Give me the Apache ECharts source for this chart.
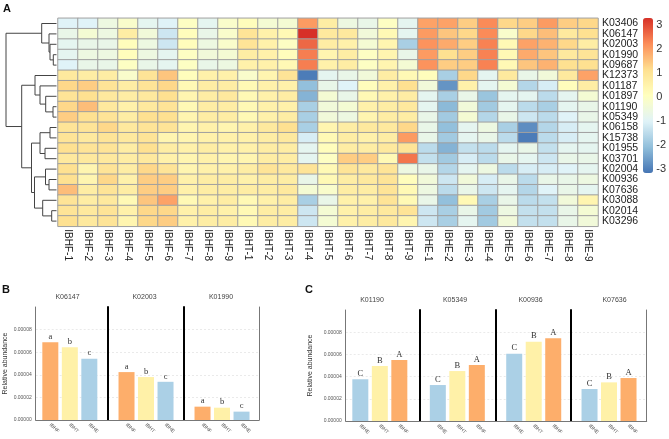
<!DOCTYPE html>
<html><head><meta charset="utf-8">
<script src="https://cdn.jsdelivr.net/npm/echarts@6/dist/echarts.min.js"></script>
<style>html,body{margin:0;padding:0;background:#fff}#c{width:669px;height:439px}</style>
</head><body><div id="c"></div>
<script>
// ---------- Heatmap data ----------
const rowLabels = ['K03406','K06147','K02003','K01990','K09687','K12373','K01187','K01897','K01190','K05349',
  'K06158','K15738','K01955','K03701','K02004','K00936','K07636','K03088','K02014','K03296'];
const colLabels = ['IBHF-1','IBHF-2','IBHF-3','IBHF-4','IBHF-5','IBHF-6','IBHF-7','IBHF-8','IBHF-9',
  'IBHT-1','IBHT-2','IBHT-3','IBHT-4','IBHT-5','IBHT-6','IBHT-7','IBHT-8','IBHT-9',
  'IBHE-1','IBHE-2','IBHE-3','IBHE-4','IBHE-5','IBHE-6','IBHE-7','IBHE-8','IBHE-9'];
const zValues = [
 [-1.0,-1.0,-0.56,-0.15,-0.84,-1.0,0,-0.84,-0.15, 0.15,-0.3,-0.3,2.05,0.7,-0.56,-0.7,0,-0.84, 1.95,1.95,1.4,2.25,1.26,1.4,2.05,1.4,1.26],
 [-0.7,-0.3,-0.56,0.7,-0.42,-1.26,0.15,-0.7,-0.15, 1.0,0.56,0.3,3.3,0.84,0.84,-0.42,0.3,-0.84, 2.05,1.5,1.26,2.25,-0.15,1.26,1.6,0.84,1.12],
 [-0.84,-0.7,-0.7,0.15,-0.56,-1.26,0.15,-0.56,-0.15, 1.0,0.56,0,2.65,0.7,0.56,-0.3,0.42,-1.75, 2.15,1.85,1.4,2.35,0.3,1.95,1.75,1.26,0.7],
 [-0.84,-0.56,-0.56,0.15,-0.56,-0.84,0,-0.42,-0.3, 0.7,0.56,0.15,2.4,0.42,0.7,0,0.42,-0.7, 2.05,1.12,1.4,2.35,0.3,1.85,1.5,0.84,1.0],
 [-1.0,-0.7,-0.7,0,-0.7,-0.84,0,-0.7,-0.56, 0.56,0.56,0.3,2.4,0.56,0.7,0,0.42,-0.3, 2.15,1.4,1.4,2.35,0.3,1.5,1.75,1.12,1.12],
 [0.84,0.7,0.7,-0.15,1.0,1.5,0.15,0.56,0.56, -0.15,0.42,1.0,-3.05,-0.84,-0.7,-0.42,0.7,0.3, 0.15,-1.75,1.26,-0.84,0.84,-0.7,-0.42,0.84,1.95],
 [1.26,1.4,1.0,0.7,1.0,1.26,0.3,0.7,0.7, 0.3,0.56,0.56,-2.05,-0.7,-1.0,0.15,0.56,1.12, -0.42,-2.7,0.56,-0.84,-0.3,-1.6,-1.12,0.15,0.7],
 [1.0,1.12,0.84,0.7,0.84,1.12,0.42,0.7,0.84, 0.3,0.56,0.7,-2.25,-0.3,-0.7,0.3,0.56,0.7, -0.84,-1.75,-0.7,-1.95,-0.84,-0.84,-1.5,-0.84,-0.3],
 [1.26,1.6,0.84,0.56,0.84,1.0,0.3,0.7,0.7, 0.3,0.56,0.56,-1.75,-0.42,-0.3,0.56,0.7,0.84, -0.84,-2.15,-0.42,-1.85,-0.84,-1.5,-1.75,-0.84,-0.7],
 [1.4,1.12,1.0,0.7,1.12,1.12,0.42,0.7,0.7, 0.3,0.56,0.7,-1.75,-0.42,-0.56,0.42,0.7,0.7, -0.7,-1.85,-0.3,-1.6,-0.7,-1.26,-1.5,-1.0,-0.7],
 [1.0,1.0,1.26,0.84,1.0,1.0,0.42,0.56,0.42, 0.56,0.84,1.12,-1.75,0.42,0.7,0.84,0.84,1.26, -0.7,-2.05,-0.84,-0.56,-1.75,-2.8,-1.6,-1.12,-0.84],
 [1.0,0.84,1.0,0.84,1.0,0.42,0.42,0.56,0.56, 0.56,0.7,0.84,-1.12,0.3,0.7,0.56,0.7,2.05, -0.7,-1.85,-0.84,-0.7,-1.5,-3.05,-1.5,-1.12,-0.84],
 [1.12,1.0,1.0,0.7,1.12,0.7,0.56,0.7,0.56, 0.56,0.7,0.7,-0.84,0.15,0.7,0.7,0.84,1.0, -1.5,-2.25,-1.4,-1.5,-0.84,-0.7,-1.4,-0.84,-0.84],
 [0.84,0.84,0.84,0.7,0.84,0.56,0.42,0.56,0.42, 0.42,0.7,0.7,-0.84,0,1.4,1.4,0.3,2.5, -1.4,-1.85,-1.12,-1.5,-0.7,-0.84,-1.26,-0.7,-0.7],
 [1.12,0.42,1.0,0.7,1.26,1.0,0.42,0.56,0.56, 0.7,1.0,0.84,1.0,0.3,1.0,0.84,1.0,-0.56, -0.7,-1.6,-0.84,-0.56,-1.5,-1.12,-1.12,-1.0,-0.84],
 [1.12,0.42,1.26,0.56,1.4,1.4,0.56,0.7,0.7, 0.56,0.7,0.7,-0.7,0.3,0.7,0.84,1.0,0.15, -0.42,-1.26,-0.42,-1.12,-0.7,-1.5,-0.7,-0.7,-0.56],
 [1.6,0.7,1.0,0.7,1.4,1.4,0.56,0.7,0.7, 0.7,0.7,0.84,-0.3,-0.15,0.7,0.7,1.0,0.3, -0.56,-1.5,-0.7,-1.26,-0.84,-1.6,-1.0,-0.7,-0.84],
 [1.0,0.7,0.84,0.3,1.5,1.95,0.3,0.56,0.7, 0.3,0.56,0.7,-1.75,-0.7,0.56,0.56,1.0,0.3, -0.7,-2.05,0.3,-1.75,-0.7,-1.5,-1.4,-0.42,0.42],
 [1.0,0.84,1.0,0.56,1.26,1.26,0.56,0.7,0.56, 0.3,0.7,0.7,-1.26,-0.3,0.56,0.7,0.84,1.0, -1.26,-1.75,-0.7,-1.85,-0.56,-1.4,-1.4,-0.7,-0.3],
 [1.12,0.84,1.0,0.42,1.26,1.4,0.56,0.7,0.7, 0.3,0.7,0.7,-1.26,-0.3,0.56,0.7,0.84,0.42, -1.26,-1.75,-0.84,-1.85,-0.42,-1.4,-1.4,-0.7,-0.42]
];
const colorbarTicks = [-3,-2,-1,0,1,2,3];
const zMin = -3.15, zMax = 3.3;

// Row dendrogram: [height, left, right]; leaves are row indices
const dendroTree = [50.5,
  [14.8, 0, [7.5, 1, [6.5, 2, [3.2, 3, 4]]]],
  [34.8,
    [21.5, 5, [16.5, 6, [10.8, 7, [3.5, 8, 9]]]],
    [25, [16.5, [6.5, 10, 11], [11.5, 12, 13]],
         [22, [11, 14, [7.5, 15, 16]], [13.8, 17, [4.8, 18, 19]]]]]];

// ---------- Bar panel data ----------
const bGenes = ['K06147','K02003','K01990'];
const bGroups = ['IBHF','IBHT','IBHE'];
const bValues = [[6.87e-5,6.43e-5,5.42e-5],[4.24e-5,3.80e-5,3.38e-5],[1.18e-5,1.09e-5,0.74e-5]];
const bLetters = ['a','b','c'];
const cGenes = ['K01190','K05349','K00936','K07636'];
const cGroups = ['IBHE','IBHT','IBHF'];
const cValues = [[3.76e-5,4.95e-5,5.50e-5],[3.24e-5,4.50e-5,5.04e-5],[6.06e-5,7.14e-5,7.45e-5],[2.88e-5,3.48e-5,3.87e-5]];
const cLetters = ['C','B','A'];
const yTickVals = [0, 0.00002, 0.00004, 0.00006, 0.00008];

const groupColor = {IBHF:'#fdae6b', IBHT:'#fff1a8', IBHE:'#abd0e6'};
const palette = ['#4575B4','#91BFDB','#E0F3F8','#FFFFBF','#FEE090','#FC8D59','#D73027'];
const FONT = 'Liberation Sans, Arial, sans-serif';

// ---------- build ----------
const heatData = [];
zValues.forEach((row, r) => row.forEach((v, c) => heatData.push([c, r, v])));

const dendroLines = [];
function buildTree(node) {
  if (typeof node === 'number') return {y: node + 0.5, h: 0};
  const a = buildTree(node[1]), b = buildTree(node[2]), h = node[0];
  dendroLines.push({coords: [[a.h, a.y], [h, a.y], [h, b.y], [b.h, b.y]]});
  return {y: (a.y + b.y) / 2, h};
}
buildTree(dendroTree);

const grid = [], xAxis = [], yAxis = [], series = [], title = [];
// 0 heatmap
grid.push({left: 58, top: 18.3, width: 540, height: 208});
xAxis.push({type:'category', gridIndex:0, data: colLabels, axisLine:{show:false}, axisTick:{show:false},
  axisLabel:{rotate:-90, fontSize:10, color:'#222', margin:3, interval:0, fontFamily:FONT}});
yAxis.push({type:'category', gridIndex:0, data: rowLabels, inverse:true, position:'right',
  axisLine:{show:false}, axisTick:{show:false}, axisLabel:{fontSize:10.5, color:'#222', margin:4, interval:0, fontFamily:FONT}});
series.push({type:'heatmap', xAxisIndex:0, yAxisIndex:0, data: heatData,
  itemStyle:{borderColor:'#a0a0a0', borderWidth:1}, emphasis:{disabled:true}});
// 1 dendrogram
grid.push({left: 6, top: 18.3, width: 50.5, height: 208});
xAxis.push({type:'value', gridIndex:1, min:0, max:50.5, inverse:true, show:false});
yAxis.push({type:'value', gridIndex:1, min:0, max:20, inverse:true, show:false});
series.push({type:'lines', coordinateSystem:'cartesian2d', xAxisIndex:1, yAxisIndex:1, polyline:true,
  data: dendroLines, lineStyle:{color:'#444', width:1, opacity:1}, silent:true});
// 2 colorbar axis
grid.push({left: 643, top: 18, width: 10, height: 155});
xAxis.push({type:'value', gridIndex:2, show:false, min:0, max:1});
yAxis.push({type:'value', gridIndex:2, min:zMin, max:zMax, position:'right', axisLine:{show:false},
  axisTick:{show:false}, splitLine:{show:false},
  axisLabel:{customValues: colorbarTicks, fontSize:11, color:'#333', margin:5, fontFamily:FONT}});

function addFacets(genes, groups, values, letters, lefts, widths, xmins, top, height, nameGap) {
  const n = genes.length;
  for (let k = 0; k < n; k++) {
    const gi = grid.length;
    grid.push({left: lefts[k], top: top, width: widths[k], height: height});
    const xi = xAxis.length;
    xAxis.push({type:'value', gridIndex:gi, min: xmins[k], max: xmins[k] + widths[k] / 19.5,
      axisLine:{show:true, onZero:false, lineStyle:{color:'#777', width:1}}, axisTick:{show:false}, splitLine:{show:false},
      axisLabel:{customValues:[1,2,3], formatter: v => groups[Math.round(v) - 1], rotate:-45, fontSize:5, color:'#555', margin:4, fontFamily:FONT}});
    const first = k === 0;
    const yi = yAxis.length;
    yAxis.push({type:'value', gridIndex:gi, min:0, max:0.0001,
      axisLine:{show:true, lineStyle: first ? {color:'#777', width:1} : {color:'#000', width:2}},
      axisTick:{show:false},
      splitLine:{show:true, showMaxLine:false, lineStyle:{color:'#ddd', width:0.6, type:[2,2]}},
      axisLabel:{show:first, customValues: yTickVals, formatter: v => v.toFixed(5), fontSize:5, color:'#555', margin:4, fontFamily:FONT},
      name: first ? 'Relative abundance' : '', nameLocation:'middle', nameGap: nameGap, nameRotate:90,
      nameTextStyle:{fontSize:7, color:'#333', fontFamily:FONT}});
    series.push({type:'bar', xAxisIndex: xi, yAxisIndex: yi, barWidth:16,
      data: values[k].map((v, i) => ({value:[i + 1, v], itemStyle:{color: groupColor[groups[i]]}})),
      label:{show:true, position:'top', distance:1, formatter: p => letters[p.dataIndex],
        fontFamily:'Liberation Serif, Times New Roman, serif', fontSize:8.5, color:'#333'},
      emphasis:{disabled:true}});
    if (k === n - 1) {
      yAxis.push({type:'value', gridIndex:gi, min:0, max:0.0001, position:'right',
        axisLine:{show:true, lineStyle:{color:'#777', width:1}}, axisTick:{show:false},
        axisLabel:{show:false}, splitLine:{show:false}});
    }
  }
}
addFacets(bGenes, bGroups, bValues, bLetters, [35.7,108,184], [72.3,76,75], [0.25,0.05,0.05], 307, 113, 27);
addFacets(cGenes, cGroups, cValues, cLetters, [345.7,419.3,495.7,571], [73.6,76.4,75.3,75.7], [0.25,0.05,0.05,0.05], 310, 111, 32);

// facet titles
const bTitleX = [67.5, 144.5, 221];
const cTitleX = [372, 455, 530.5, 614.5];
bGenes.forEach((g, i) => title.push({text: g, left: bTitleX[i], top: 294, textAlign:'center', padding:0,
  textStyle:{fontSize:7, fontWeight:'normal', color:'#444', fontFamily:FONT}}));
cGenes.forEach((g, i) => title.push({text: g, left: cTitleX[i], top: 297, textAlign:'center', padding:0,
  textStyle:{fontSize:7, fontWeight:'normal', color:'#444', fontFamily:FONT}}));
// panel letters
[['A',3,3],['B',2,284],['C',305,284]].forEach(([t,x,y]) => title.push({text:t, left:x, top:y, padding:0,
  textStyle:{fontSize:11, fontWeight:'bold', color:'#111', fontFamily:FONT}}));

const chart = echarts.init(document.getElementById('c'), null, {width:669, height:439});
chart.setOption({
  animation:false,
  backgroundColor:'#fff',
  textStyle:{fontFamily:FONT},
  title: title,
  grid: grid, xAxis: xAxis, yAxis: yAxis,
  visualMap: {type:'continuous', min:zMin, max:zMax, seriesIndex:0, calculable:false, orient:'vertical',
    left:643, top:18, itemWidth:10, itemHeight:155, padding:0, showLabel:false,
    inRange:{color: palette}},
  series: series
});
</script>
</body></html>
